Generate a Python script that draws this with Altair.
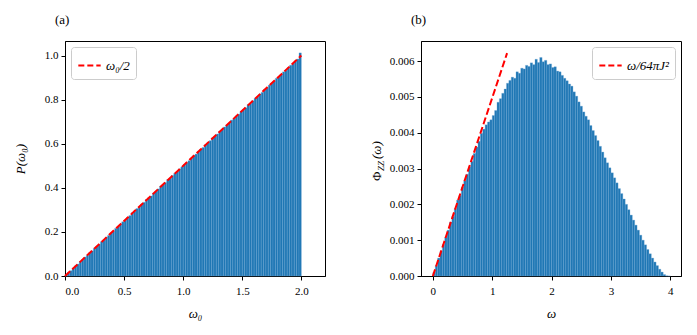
import altair as alt
import pandas as pd

FONT = "Liberation Serif, DejaVu Serif, serif"

# Panel (a): histogram of omega_0, bin width 0.02 from 0 to 2
a_bin_width = 0.02
a_vals = [
    0.005, 0.016, 0.024, 0.036, 0.046, 0.054, 0.066, 0.074, 0.086, 0.094,
    0.106, 0.114, 0.126, 0.135, 0.144, 0.156, 0.163, 0.176, 0.184, 0.196,
    0.203, 0.216, 0.225, 0.234, 0.246, 0.253, 0.266, 0.274, 0.287, 0.294,
    0.306, 0.313, 0.326, 0.334, 0.347, 0.355, 0.363, 0.376, 0.384, 0.395,
    0.407, 0.414, 0.424, 0.437, 0.443, 0.456, 0.466, 0.473, 0.486, 0.495,
    0.506, 0.514, 0.523, 0.535, 0.546, 0.553, 0.566, 0.575, 0.583, 0.596,
    0.604, 0.614, 0.627, 0.634, 0.644, 0.655, 0.663, 0.676, 0.684, 0.694,
    0.707, 0.713, 0.726, 0.734, 0.746, 0.754, 0.763, 0.777, 0.783, 0.795,
    0.806, 0.813, 0.826, 0.833, 0.847, 0.853, 0.866, 0.874, 0.884, 0.897,
    0.903, 0.914, 0.926, 0.933, 0.946, 0.956, 0.963, 0.976, 0.984, 1.012,
]
a_line_x = [0.0, 2.0]
a_line_y = [0.0, 1.0]
a_label = "ω₀/2"
a_xticks = [0.0, 0.5, 1.0, 1.5, 2.0]
a_yticks = [0.0, 0.2, 0.4, 0.6, 0.8, 1.0]

# Panel (b): histogram of omega, bin width 0.04 from 0 to 4
b_bin_width = 0.04
b_vals = [
    0.00010, 0.00029, 0.00050, 0.00070, 0.00088, 0.00108, 0.00128, 0.00150, 0.00166, 0.00188,
    0.00212, 0.00225, 0.00248, 0.00266, 0.00284, 0.00305, 0.00320, 0.00342, 0.00360, 0.00376,
    0.00398, 0.00410, 0.00422, 0.00430, 0.00436, 0.00448, 0.00462, 0.00485, 0.00495, 0.00510,
    0.00522, 0.00538, 0.00546, 0.00555, 0.00552, 0.00570, 0.00566, 0.00580, 0.00578, 0.00588,
    0.00585, 0.00595, 0.00590, 0.00605, 0.00596, 0.00610, 0.00598, 0.00602, 0.00590, 0.00592,
    0.00582, 0.00584, 0.00572, 0.00570, 0.00560, 0.00552, 0.00545, 0.00536, 0.00530, 0.00514,
    0.00502, 0.00486, 0.00474, 0.00458, 0.00446, 0.00436, 0.00420, 0.00406, 0.00392, 0.00378,
    0.00362, 0.00346, 0.00330, 0.00316, 0.00302, 0.00288, 0.00274, 0.00260, 0.00244, 0.00230,
    0.00215, 0.00200, 0.00185, 0.00170, 0.00156, 0.00142, 0.00128, 0.00114, 0.00100, 0.00087,
    0.00074, 0.00062, 0.00050, 0.00039, 0.00029, 0.00019, 0.00011, 0.00004, 0.000005, 0.0,
]
b_line_x = [0.0, 1.25]
b_line_y = [0.0, 0.00622]
b_label = "ω/64πJ²"
b_xticks = [0, 1, 2, 3, 4]
b_yticks = [0.0, 0.001, 0.002, 0.003, 0.004, 0.005, 0.006]

BLUE = "#1f77b4"
W, H = 260, 235


def hist_df(vals, width):
    return pd.DataFrame({
        "x0": [i * width for i in range(len(vals))],
        "x1": [(i + 1) * width for i in range(len(vals))],
        "v": vals,
    })


def legend(orient):
    return alt.Legend(
        title=None, orient=orient, symbolType="stroke", symbolStrokeWidth=2,
        symbolDash=[6, 3], symbolSize=500, strokeColor="#cccccc", fillColor="white",
        padding=6, cornerRadius=3, labelFont=FONT, labelFontSize=13,
        labelFontStyle="italic", offset=6, labelLimit=200,
    )


def panel(vals, width, xdom, ydom, xticks, yticks, xfmt, yfmt, xtitle, ytitle,
          lx, ly, label, orient, title, ytitle_pad):
    df = hist_df(vals, width)
    xscale = alt.Scale(domain=xdom, nice=False, zero=False)
    yscale = alt.Scale(domain=ydom, nice=False)
    xaxis = alt.Axis(values=xticks, format=xfmt, title=xtitle, labelPadding=5,
                     titleFontStyle="italic", labelOverlap=False, titlePadding=11)
    yaxis = alt.Axis(values=yticks, format=yfmt, title=ytitle,
                     titleFontStyle="italic", labelOverlap=False,
                     titlePadding=ytitle_pad)
    bars = alt.Chart(df).mark_bar(
        color=BLUE, stroke="#6fa8d6", strokeWidth=0.4, strokeOpacity=0.8
    ).encode(
        x=alt.X("x0:Q", scale=xscale, axis=xaxis),
        x2="x1:Q",
        y=alt.Y("v:Q", scale=yscale, axis=yaxis),
        y2=alt.datum(0),
    )
    ldf = pd.DataFrame({"x": lx, "y": ly, "label": [label] * len(lx)})
    line = alt.Chart(ldf).mark_line(strokeDash=[7, 3], strokeWidth=2).encode(
        x=alt.X("x:Q", scale=xscale, axis=xaxis),
        y=alt.Y("y:Q", scale=yscale, axis=yaxis),
        color=alt.Color("label:N", scale=alt.Scale(range=["red"]),
                        legend=legend(orient)),
    )
    return alt.layer(bars, line).properties(
        width=W, height=H,
        title=alt.TitleParams(title, anchor="start", frame="group", dx=-10, offset=14,
                              font=FONT, fontSize=13, fontWeight="normal"),
    )


pa = panel(a_vals, a_bin_width, [0, 2.2], [0, 1.066], a_xticks, a_yticks,
           ".1f", ".1f", "ω₀", "P(ω₀)", a_line_x, a_line_y, a_label,
           "top-left", "(a)", 17)

pb_base = panel(b_vals, b_bin_width, [-0.2, 4.18], [0, 0.00656], b_xticks, b_yticks,
                ".0f", ".3f", "ω", None, b_line_x, b_line_y, b_label,
                "top-right", "(b)", 6)

# y-axis title for panel (b) with subscript
t_phi = alt.Chart(pd.DataFrame({"t": ["Φ"]})).mark_text(
    angle=270, align="left", baseline="alphabetic", font=FONT, fontSize=13
).encode(text="t:N", x=alt.value(-40), y=alt.value(140))
t_zz = alt.Chart(pd.DataFrame({"t": ["ZZ"]})).mark_text(
    angle=270, align="left", baseline="alphabetic", font=FONT, fontSize=9,
    fontStyle="italic", dx=10, dy=3
).encode(text="t:N", x=alt.value(-40), y=alt.value(140))
t_w = alt.Chart(pd.DataFrame({"t": ["(ω)"]})).mark_text(
    angle=270, align="left", baseline="alphabetic", font=FONT, fontSize=13,
    fontStyle="italic", dx=22
).encode(text="t:N", x=alt.value(-40), y=alt.value(140))

pb = alt.layer(pb_base, t_phi, t_zz, t_w)

chart = alt.hconcat(pa, pb, spacing=44).resolve_scale(color="independent").configure(
    font=FONT,
).configure_view(
    stroke="black", strokeWidth=1,
).configure_axis(
    labelFont=FONT, titleFont=FONT, labelFontSize=11, titleFontSize=13,
    domainColor="black", tickColor="black", tickSize=4, labelColor="black",
    titleColor="black", grid=False, titleFontWeight="normal", labelPadding=3,
).configure_legend(
    labelColor="black",
)

chart.save("out.html", embed_options={"renderer": "svg", "actions": False})
